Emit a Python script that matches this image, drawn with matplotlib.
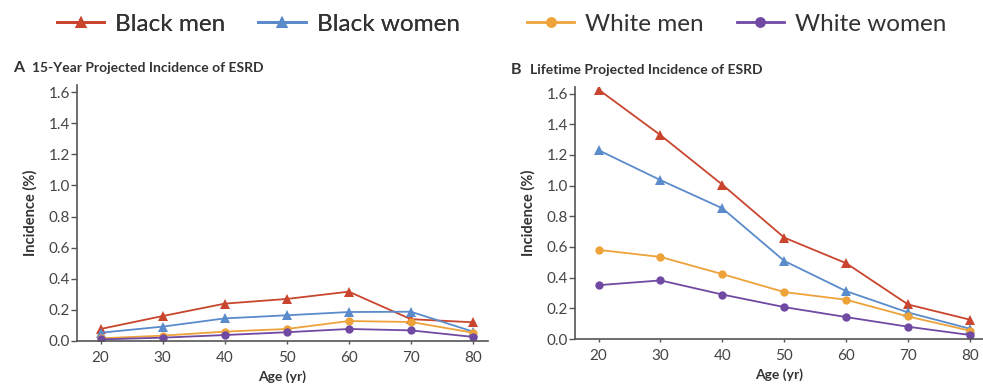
import matplotlib
matplotlib.use("Agg")
import matplotlib.pyplot as plt
from matplotlib.lines import Line2D

plt.rcParams['font.family'] = ['Lato', 'DejaVu Sans']

ages = [20, 30, 40, 50, 60, 70, 80]

# 15-year projected incidence (%)
a_black_men = [0.077, 0.16, 0.24, 0.27, 0.317, 0.14, 0.12]
a_black_women = [0.053, 0.092, 0.145, 0.165, 0.186, 0.188, 0.06]
a_white_men = [0.017, 0.034, 0.06, 0.077, 0.128, 0.122, 0.053]
a_white_women = [0.01, 0.021, 0.038, 0.056, 0.077, 0.068, 0.026]

# lifetime projected incidence (%)
b_black_men = [1.626, 1.329, 1.006, 0.661, 0.494, 0.225, 0.126]
b_black_women = [1.231, 1.036, 0.852, 0.509, 0.312, 0.173, 0.067]
b_white_men = [0.581, 0.535, 0.423, 0.306, 0.256, 0.147, 0.054]
b_white_women = [0.351, 0.382, 0.29, 0.208, 0.143, 0.08, 0.026]

yticks = [0.0, 0.2, 0.4, 0.6, 0.8, 1.0, 1.2, 1.4, 1.6]

RED = '#c9452e'
BLUE = '#5a8bcb'
ORANGE = '#eda33a'
PURPLE = '#7049a3'
TXT = '#333333'
AX = '#555555'

styles = [
    ('Black men', RED, '^', 6.5),
    ('Black women', BLUE, '^', 6.5),
    ('White men', ORANGE, 'o', 6),
    ('White women', PURPLE, 'o', 6),
]

fig = plt.figure(figsize=(9.83, 3.87), dpi=100)
ax_a = fig.add_axes([0.0783, 0.119, 0.418, 0.661])
ax_b = fig.add_axes([0.585, 0.124, 0.415, 0.652])


def draw(ax, series, xmax):
    for (name, color, mk, ms), vals in zip(styles, series):
        ax.plot(ages, vals, color=color, marker=mk, markersize=ms,
                linewidth=1.3, markeredgewidth=0)
    ax.set_xlim(16.2, xmax)
    ax.set_ylim(0, 1.645)
    ax.set_xticks(ages)
    ax.set_yticks(yticks)
    ax.set_yticklabels(['%.1f' % v for v in yticks])
    for side in ('top', 'right'):
        ax.spines[side].set_visible(False)
    for side in ('left', 'bottom'):
        ax.spines[side].set_color(AX)
        ax.spines[side].set_linewidth(1.2)
    ax.tick_params(axis='y', direction='out', length=4, width=1,
                   color=AX, labelsize=11, labelcolor='#444444', pad=1)
    ax.tick_params(axis='x', direction='out', length=2, width=1,
                   color=AX, labelsize=11, labelcolor='#444444', pad=5)
    ax.set_xlabel('Age (yr)', fontsize=10, fontweight='bold',
                  color=TXT, labelpad=4)
    ax.set_ylabel('Incidence (%)', fontsize=10.5, fontweight='bold',
                  color=TXT, labelpad=8)
    return ax


draw(ax_a, [a_black_men, a_black_women, a_white_men, a_white_women], 82.4)
draw(ax_b, [b_black_men, b_black_women, b_white_men, b_white_women], 82.1)

# panel headings
fig.text(13 / 983, 1 - 68 / 387, 'A', fontsize=11.5, fontweight='bold',
         color=TXT, va='center')
fig.text(32 / 983, 1 - 68 / 387, '15-Year Projected Incidence of ESRD',
         fontsize=10, fontweight='bold', color=TXT, va='center')
fig.text(511 / 983, 1 - 70 / 387, 'B', fontsize=11.5, fontweight='bold',
         color=TXT, va='center')
fig.text(530 / 983, 1 - 70 / 387, 'Lifetime Projected Incidence of ESRD',
         fontsize=10, fontweight='bold', color=TXT, va='center')

# legend across the top, split into two groups
handles = [Line2D([], [], color=c, marker=m, markersize=ms * 1.3,
                  linewidth=2, markeredgewidth=0, label=n)
           for n, c, m, ms in styles]
leg_kw = dict(ncol=2, frameon=False, fontsize=17.5, handlelength=1.95,
              handletextpad=0.45, columnspacing=1.35, borderaxespad=0,
              borderpad=0, labelcolor=TXT, loc='center left')
leg1 = fig.legend(handles=handles[:2], bbox_to_anchor=(57 / 983, 1 - 24 / 387),
                  **leg_kw)
fig.add_artist(leg1)
fig.legend(handles=handles[2:], bbox_to_anchor=(527 / 983, 1 - 24 / 387),
           **leg_kw)

fig.savefig('out.png', dpi=100)
